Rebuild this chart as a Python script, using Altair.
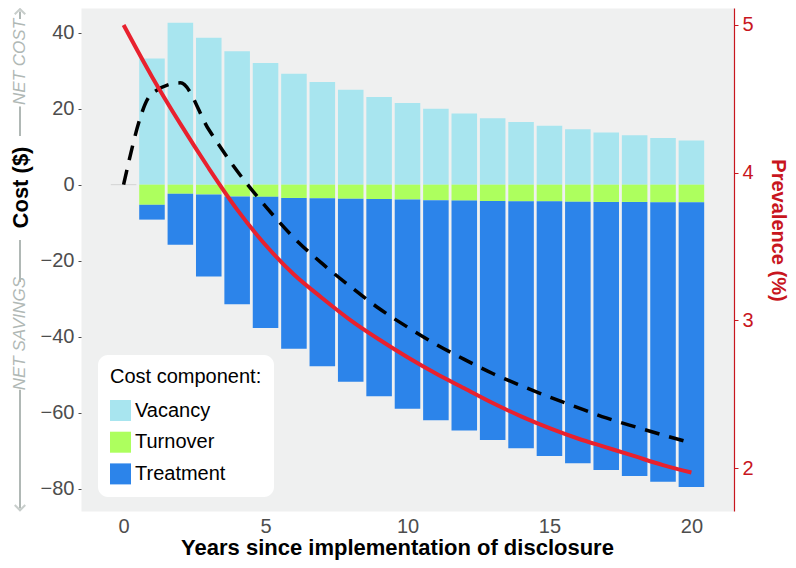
import altair as alt
import pandas as pd

FONT = "Liberation Sans"

# ---- data ----
years = list(range(1, 21))
vacancy = [33.2, 42.6, 38.7, 35.1, 32.0, 29.2, 27.0, 25.0, 23.1, 21.5,
           20.0, 18.7, 17.5, 16.5, 15.5, 14.6, 13.7, 13.0, 12.3, 11.6]
turnover = [5.3, 2.4, 2.6, 3.1, 3.2, 3.5, 3.6, 3.7, 3.8, 3.9,
            4.1, 4.2, 4.3, 4.4, 4.4, 4.5, 4.55, 4.55, 4.65, 4.65]
treatment = [3.9, 13.4, 21.6, 28.4, 34.5, 39.7, 44.2, 48.2, 51.9, 55.1,
             57.9, 60.5, 62.9, 65.0, 67.0, 68.8, 70.55, 72.15, 73.55, 74.95]

line_years = list(range(0, 21))
net_cost = [0.0, 24.0, 26.8, 14.5, 3.6, -5.7, -14.0, -20.8, -26.9, -32.6, -37.5,
            -42.0, -46.0, -49.7, -52.9, -55.9, -58.7, -61.4, -63.7, -65.9, -68.0]
prevalence = [5.00, 4.65, 4.33, 4.03, 3.75, 3.51, 3.31, 3.15, 3.00, 2.87, 2.75,
              2.64, 2.54, 2.44, 2.35, 2.27, 2.20, 2.14, 2.08, 2.02, 1.97]

# year 0 has a zero-height bar (drawn as a faint line at 0)
zero_year = [0]
zero_value = [0]

components = ["Vacancy", "Turnover", "Treatment"]
comp_colors = ["#A8E5EF", "#ADFF5E", "#2C84EA"]

x_ticks = [0, 5, 10, 15, 20]
cost_ticks = [-80, -60, -40, -20, 0, 20, 40]
prev_ticks = [2, 3, 4, 5]

# annotation positions on the cost scale
ann_labels = ["NET COST", "NET SAVINGS"]
ann_label_y = [32.3, -39.2]
ann_seg_start = [45.6, 20.6, -14.6, -54.0]
ann_seg_end = [43.6, 12.8, -25.6, -85.2]
arrow_up_y = [45.8]
arrow_down_y = [-85.3]

X_DOMAIN = [-1.5, 21.5]
Y_DOMAIN = [-85.9, 46.5]
P_DOMAIN = [1.709, 5.115]

GRAY = "#b0b8b5"
RED_LINE = "#E8212E"
RED_AXIS = "#C8161E"
ANN_X = -61

# ---- tables ----
rows = []
for i, yr in enumerate(years):
    rows.append({"year": yr, "component": "Vacancy", "lo": 0.0, "hi": vacancy[i]})
    rows.append({"year": yr, "component": "Turnover", "lo": 0.0, "hi": -turnover[i]})
    rows.append({"year": yr, "component": "Treatment", "lo": -turnover[i],
                 "hi": -turnover[i] - treatment[i]})
bars_df = pd.DataFrame(rows)
lines_df = pd.DataFrame({"year": line_years, "net": net_cost, "prev": prevalence})

xs = alt.Scale(domain=X_DOMAIN, nice=False, zero=False)
ys = alt.Scale(domain=Y_DOMAIN, nice=False, zero=False)
ps = alt.Scale(domain=P_DOMAIN, nice=False, zero=False)

zero_rule = alt.Chart(pd.DataFrame({"year": zero_year, "y": zero_value})).transform_calculate(
    x0="datum.year - 0.45", x1="datum.year + 0.45"
).mark_rule(color="#d2d4d4", strokeWidth=1).encode(
    x=alt.X("x0:Q", scale=xs),
    x2="x1:Q",
    y=alt.Y("y:Q", scale=ys, axis=None),
)

bars = alt.Chart(bars_df).transform_calculate(
    x0="datum.year - 0.45", x1="datum.year + 0.45"
).mark_rect().encode(
    x=alt.X("x0:Q", scale=xs, axis=alt.Axis(
        values=x_ticks, title="Years since implementation of disclosure",
        titleFont=FONT, titleFontSize=22, titleFontWeight="bold", titleColor="black",
        titlePadding=1, titleX=316,
        labelFont=FONT, labelFontSize=20, labelColor="#4d4d4d",
        labelPadding=5, ticks=False, domain=False, grid=False)),
    x2="x1:Q",
    y=alt.Y("lo:Q", scale=ys, axis=alt.Axis(
        orient="left", values=cost_ticks, title="Cost ($)",
        titleFont=FONT, titleFontSize=22, titleFontWeight="bold", titleColor="black",
        titleAngle=270, titleX=ANN_X, titleY=179, titleAlign="center",
        titleBaseline="middle",
        labelFont=FONT, labelFontSize=20, labelColor="#4d4d4d", labelPadding=4,
        tickSize=3, tickColor="#4d4d4d", domain=False, grid=False)),
    y2="hi:Q",
    color=alt.Color("component:N",
                    scale=alt.Scale(domain=components, range=comp_colors),
                    sort=components,
                    legend=alt.Legend(
                        title="Cost component:\u00a0\u00a0\u00a0\u00a0\u00a0",
                        orient="none", legendX=17, legendY=347,
                        fillColor="white", cornerRadius=10, padding=12,
                        titleFont=FONT, titleFontSize=20, titleFontWeight="normal",
                        titleColor="black", titlePadding=13,
                        labelFont=FONT, labelFontSize=20, labelColor="black",
                        symbolType="square", symbolSize=441, symbolStrokeWidth=0,
                        rowPadding=10.7, labelOffset=4)),
)

dashed = alt.Chart(lines_df).mark_line(
    color="black", strokeWidth=3.5, strokeDash=[15, 10], interpolate="monotone"
).encode(
    x=alt.X("year:Q", scale=xs),
    y=alt.Y("net:Q", scale=ys, axis=None),
)

prev_line = alt.Chart(lines_df).mark_line(
    color=RED_LINE, strokeWidth=4, interpolate="monotone"
).encode(
    x=alt.X("year:Q", scale=xs),
    y=alt.Y("prev:Q", scale=ps, axis=alt.Axis(
        orient="right", values=prev_ticks, title="Prevalence (%)",
        titleFont=FONT, titleFontSize=20, titleFontWeight="bold", titleColor=RED_AXIS,
        titleAngle=90, titleX=43, titleY=222, titleAlign="center", titleBaseline="middle",
        labelFont=FONT, labelFontSize=20, labelColor=RED_AXIS, labelPadding=4,
        tickSize=4, tickColor=RED_AXIS, domainColor=RED_AXIS, domainWidth=1.2,
        grid=False)),
)

ann_text = alt.Chart(pd.DataFrame({"label": ann_labels, "y": ann_label_y})).mark_text(
    angle=270, font=FONT, fontSize=17, fontStyle="italic", color=GRAY,
    align="center", baseline="middle"
).encode(
    x=alt.value(ANN_X),
    y=alt.Y("y:Q", scale=ys, axis=None),
    text="label:N",
)

ann_rules = alt.Chart(pd.DataFrame({"y": ann_seg_start, "y2": ann_seg_end})).mark_rule(
    color=GRAY, strokeWidth=2
).encode(
    x=alt.value(ANN_X),
    y=alt.Y("y:Q", scale=ys, axis=None),
    y2="y2:Q",
)

arrow_up = alt.Chart(pd.DataFrame({"y": arrow_up_y})).mark_point(
    shape="M -1 0.7 L 0 -0.3 L 1 0.7", filled=False, stroke=GRAY, strokeWidth=2, size=110
).encode(x=alt.value(ANN_X), y=alt.Y("y:Q", scale=ys, axis=None))

arrow_down = alt.Chart(pd.DataFrame({"y": arrow_down_y})).mark_point(
    shape="M -1 -0.7 L 0 0.3 L 1 -0.7", filled=False, stroke=GRAY, strokeWidth=2, size=110
).encode(x=alt.value(ANN_X), y=alt.Y("y:Q", scale=ys, axis=None))

chart = alt.layer(
    zero_rule, bars, dashed, prev_line, ann_text, ann_rules, arrow_up, arrow_down
).resolve_scale(y="independent").properties(
    width=653, height=503,
    autosize=alt.AutoSizeParams(type="none"),
    padding={"left": 73, "top": 0, "right": 54, "bottom": 49},
).configure_view(fill="#EFF0F0", stroke="transparent")

chart.save("out.html", embed_options={"renderer": "svg", "actions": False})
